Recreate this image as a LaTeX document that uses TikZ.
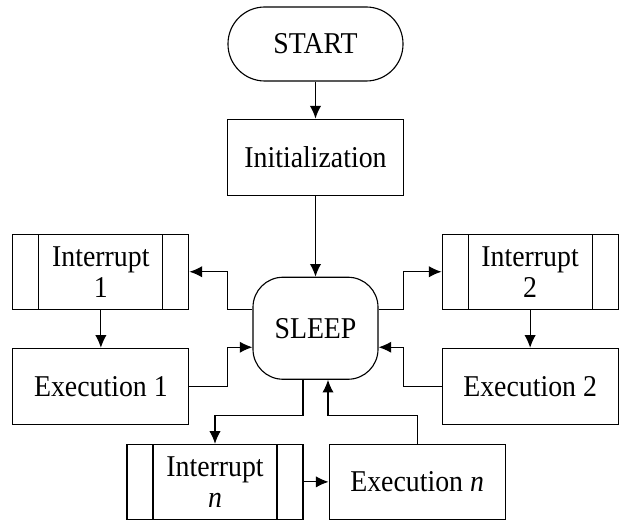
\documentclass[tikz,border=0pt]{standalone}
\usepackage{fontspec}
\setmainfont[FakeStretch=0.92]{Liberation Serif}
\usetikzlibrary{arrows.meta, positioning}
\tikzstyle{terminal} = [rectangle, rounded corners=0.92cm, minimum width=4.375cm, minimum height=1.85cm, draw, line width=0.8pt, text centered]
\tikzstyle{process} = [rectangle, minimum width=4.4cm, minimum height=1.9cm, draw, line width=0.8pt, text centered]
\tikzstyle{hub} = [rectangle, rounded corners=0.75cm, minimum width=3.125cm, minimum height=2.55cm, draw, line width=0.8pt, text centered]
\tikzstyle{interrupt} = [process, minimum height=1.875cm, path picture={
  \draw [line width=0.8pt] ([xshift=0.65cm]path picture bounding box.north west) -- ([xshift=0.65cm]path picture bounding box.south west);
  \draw [line width=0.8pt] ([xshift=-0.65cm]path picture bounding box.north east) -- ([xshift=-0.65cm]path picture bounding box.south east);}]
\tikzstyle{link} = [line width=0.8pt, ->, >={Latex[length=9pt,width=8pt]}]

\begin{document}
\begin{tikzpicture}[align=center, font=\fontsize{21.5}{22}\selectfont]
  \useasboundingbox (-7.8875,1.1) rectangle (7.7125,-11.9);
  \node (start) [terminal] {START};
  \node (init) [process, below=0.925cm of start] {Initialization};
  \draw [link] (start) -- (init);
  \node (sleep) [hub, below=2.025cm of init] {SLEEP};
  \draw [link] (init) -- (sleep);
  % left branch
  \node (int1) [interrupt, left=1.575cm of sleep, yshift=1.4125cm] {Interrupt\\1};
  \node (exe1) [process, below=0.95cm of int1] {Execution 1};
  \draw [link] ([yshift=0.475cm]sleep.west) -- ++(-0.625,0) |- (int1);
  \draw [link] (int1) -- (exe1);
  \draw [link] (exe1.east) -- ++(0.95,0) |- ([yshift=-0.475cm]sleep.west);
  % right branch
  \node (int2) [interrupt, right=1.575cm of sleep, yshift=1.4125cm] {Interrupt\\2};
  \node (exe2) [process, below=0.95cm of int2] {Execution 2};
  \draw [link] ([yshift=0.475cm]sleep.east) -- ++(0.625,0) |- (int2);
  \draw [link] (int2) -- (exe2);
  \draw [link] (exe2.west) -- ++(-0.95,0) |- ([yshift=-0.475cm]sleep.east);
  % bottom branch
  \node (intn) [interrupt, below=1.6cm of sleep, xshift=-2.5125cm] {Interrupt\\\textit{n}};
  \node (exen) [process, minimum height=1.875cm, right=0.625cm of intn] {Execution \textit{n}};
  \draw [link] ([xshift=-0.3125cm]sleep.south) -- ++(0,-0.9) -| (intn);
  \draw [link] (intn) -- (exen);
  \draw [link] (exen.north) -- ++(0,0.7) -| ([xshift=0.3125cm]sleep.south);
\end{tikzpicture}
\end{document}
